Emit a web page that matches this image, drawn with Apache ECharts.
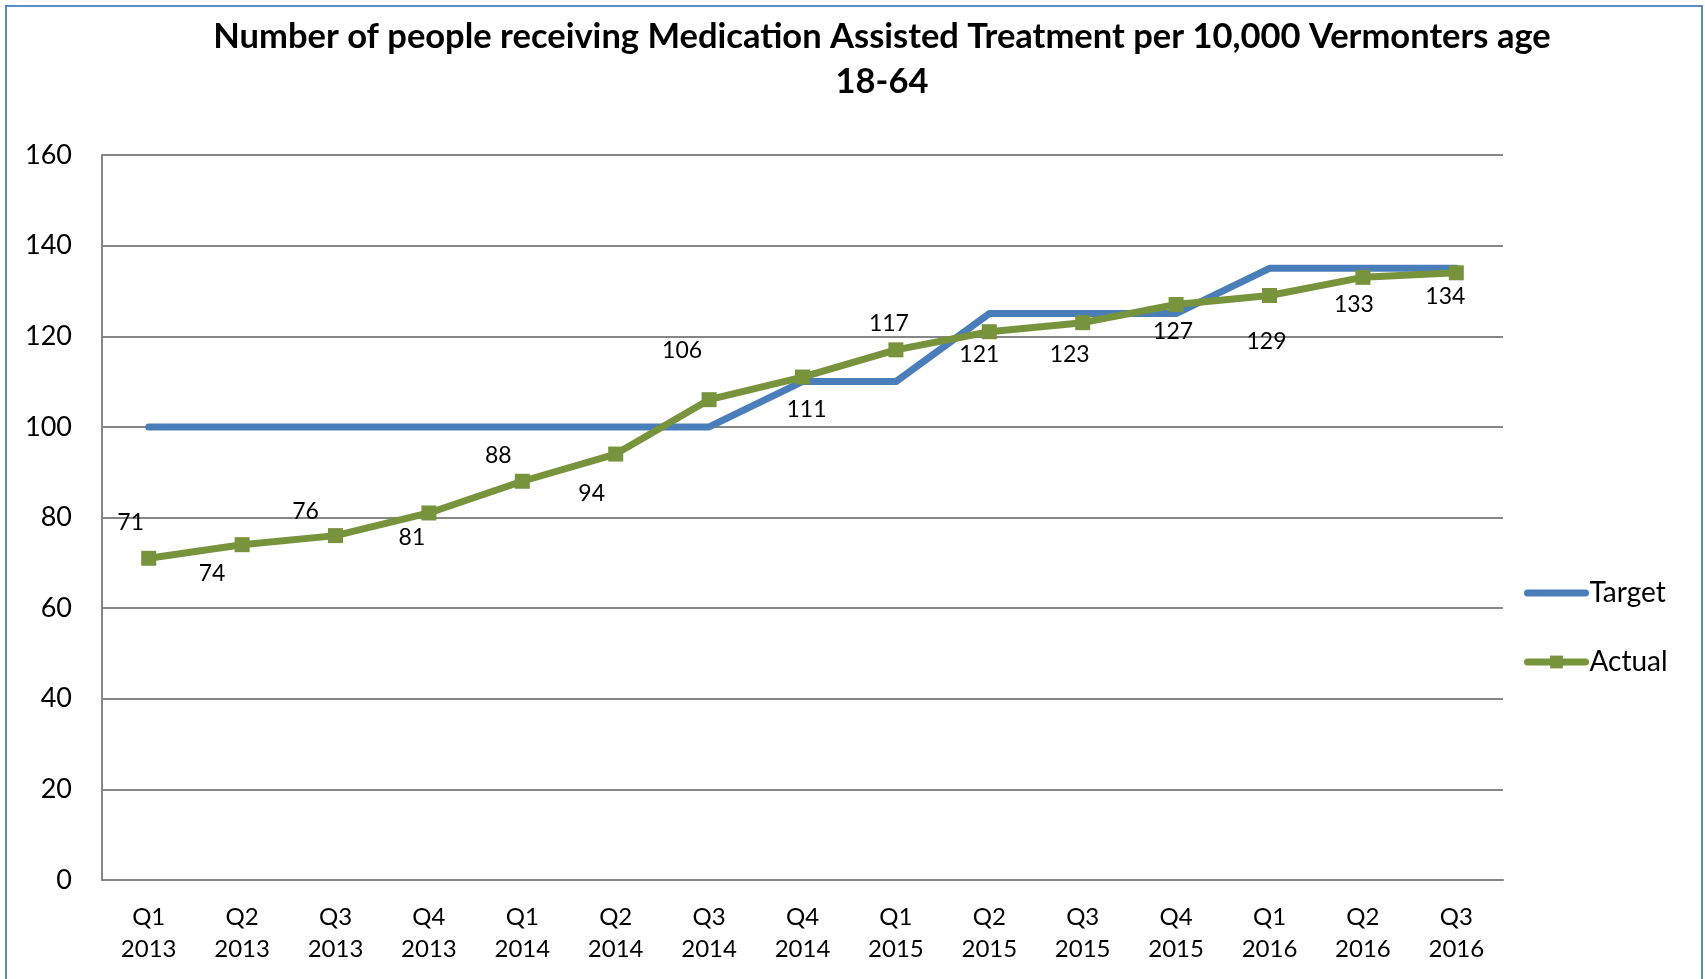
<!DOCTYPE html>
<html>
<head>
<meta charset="utf-8">
<title>Medication Assisted Treatment per 10,000 Vermonters</title>
<script src="https://cdn.jsdelivr.net/npm/echarts@6/dist/echarts.min.js"></script>
<style>
  html, body { margin: 0; padding: 0; background: #ffffff; }
  #chart { width: 1705px; height: 979px; }
</style>
</head>
<body>
<div id="chart"></div>
<script>
// Quarter labels along the x axis
const quarters = ['Q1\n2013', 'Q2\n2013', 'Q3\n2013', 'Q4\n2013',
                  'Q1\n2014', 'Q2\n2014', 'Q3\n2014', 'Q4\n2014',
                  'Q1\n2015', 'Q2\n2015', 'Q3\n2015', 'Q4\n2015',
                  'Q1\n2016', 'Q2\n2016', 'Q3\n2016'];

// Target rate per 10,000 Vermonters age 18-64
const targetValues = [100, 100, 100, 100, 100, 100, 100, 110, 110, 125, 125, 125, 135, 135, 135];

// Actual rate per 10,000 Vermonters age 18-64
const actualValues = [71, 74, 76, 81, 88, 94, 106, 111, 117, 121, 123, 127, 129, 133, 134];

// Y axis ticks
const yTicks = { min: 0, max: 160, step: 20 };

// Where each value label sits relative to its point, in pixels
const labelNudge = [[-18, -36], [-30, 29], [-30, -24], [-17, 25], [-24, -26],
                    [-24, 40], [-27, -49], [4, 33], [-7, -26], [-10, 23],
                    [-13, 32], [-3, 27], [-3, 46], [-9, 27], [-11, 24]];

const FONT = 'Lato, "Open Sans", sans-serif';
const GRID_GRAY = '#868686';
const BLUE = '#4a7ebb';
const GREEN = '#77933c';

const chart = echarts.init(document.getElementById('chart'), null, { renderer: 'canvas' });

chart.setOption({
  animation: false,
  backgroundColor: '#ffffff',
  textStyle: { fontFamily: FONT },
  graphic: [
    {
      type: 'rect',
      silent: true,
      shape: { x: 6, y: 6, width: 1696, height: 1000 },
      style: { fill: null, stroke: '#5b8bc9', lineWidth: 2 }
    },
    {
      type: 'text',
      x: 882,
      y: 59.5,
      style: {
        text: 'Number of people receiving Medication Assisted Treatment per 10,000 Vermonters age\n18-64',
        fontFamily: FONT,
        fontWeight: 'bold',
        fontSize: 34.5,
        lineHeight: 45,
        fill: '#000000',
        textAlign: 'center',
        textVerticalAlign: 'middle'
      }
    }
  ],
  legend: {
    orient: 'vertical',
    left: 1524,
    top: 578,
    padding: 0,
    itemWidth: 58,
    itemHeight: 16,
    itemGap: 39,
    lineStyle: { width: 7, cap: 'round' },
    textStyle: { fontFamily: FONT, fontSize: 28, lineHeight: 30, color: '#000000', padding: [0, 0, 0, -1] },
    data: [
      { name: 'Target', itemStyle: { opacity: 0 } },
      { name: 'Actual' }
    ]
  },
  grid: { left: 102, right: 202, top: 155, bottom: 99, containLabel: false },
  xAxis: {
    type: 'category',
    data: quarters,
    boundaryGap: true,
    axisLine: { lineStyle: { color: GRID_GRAY, width: 2 } },
    axisTick: { show: false },
    axisLabel: {
      color: '#000000',
      fontFamily: FONT,
      fontSize: 24,
      lineHeight: 32,
      margin: 21,
      interval: 0
    }
  },
  yAxis: {
    type: 'value',
    min: yTicks.min,
    max: yTicks.max,
    interval: yTicks.step,
    axisLine: { show: true, lineStyle: { color: GRID_GRAY, width: 2 } },
    axisTick: { show: false },
    splitLine: { lineStyle: { color: GRID_GRAY, width: 2 } },
    axisLabel: { color: '#000000', fontFamily: FONT, fontSize: 27, margin: 30 }
  },
  series: [
    {
      name: 'Target',
      type: 'line',
      data: targetValues,
      symbol: 'none',
      lineStyle: { color: BLUE, width: 7, cap: 'round', join: 'round' },
      itemStyle: { color: BLUE },
      z: 2
    },
    {
      name: 'Actual',
      type: 'line',
      data: actualValues.map((v, i) => ({
        value: v,
        label: { offset: labelNudge[i] }
      })),
      symbol: 'rect',
      symbolSize: 15,
      lineStyle: { color: GREEN, width: 7, cap: 'round', join: 'round' },
      itemStyle: { color: GREEN },
      label: {
        show: true,
        position: 'inside',
        align: 'center',
        verticalAlign: 'middle',
        color: '#000000',
        fontFamily: FONT,
        fontSize: 23
      },
      z: 3
    }
  ]
});
</script>
</body>
</html>
